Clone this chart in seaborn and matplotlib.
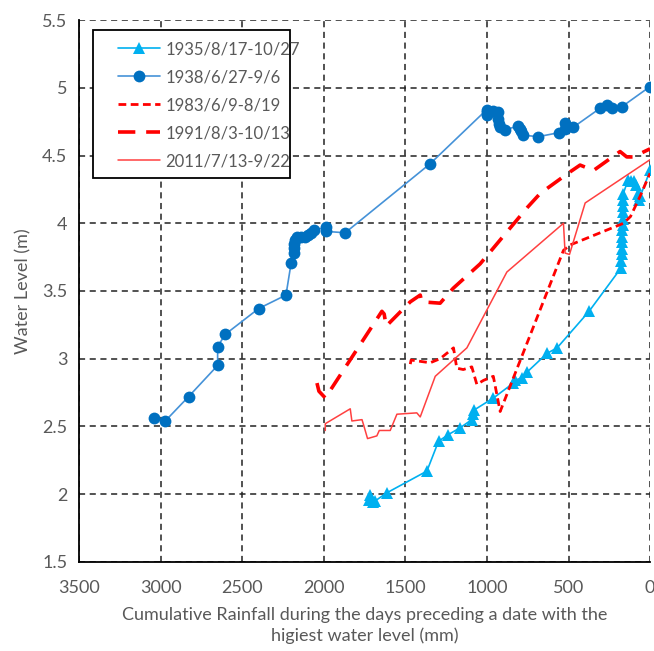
import matplotlib
matplotlib.use("Agg")
import matplotlib.pyplot as plt
from matplotlib.patches import Rectangle
import seaborn as sns

# ---- data ----
labels = ["1935/8/17-10/27", "1938/6/27-9/6", "1983/6/9-8/19", "1991/8/3-10/13", "2011/7/13-9/22"]

x1935 = [1716, 1720, 1700, 1685, 1613, 1368, 1297, 1236, 1164, 1093, 1085, 1080, 960, 838, 827, 786, 755,
         631, 570, 374, 178, 176, 175, 174, 172, 171, 170, 169, 168, 167, 166, 165, 164,
         135, 115, 100, 85, 75, 68, 60, 0]
y1935 = [1.99, 1.96, 1.94, 1.95, 2.01, 2.17, 2.39, 2.44, 2.49, 2.55, 2.59, 2.62, 2.71, 2.82, 2.84, 2.86, 2.90,
         3.04, 3.08, 3.35, 3.67, 3.72, 3.77, 3.81, 3.86, 3.90, 3.95, 3.99, 4.03, 4.08, 4.13, 4.17, 4.22,
         4.32, 4.31, 4.31, 4.28, 4.22, 4.17, 4.20, 4.39]

x1938 = [3043, 2972, 2829, 2651, 2651, 2604, 2400, 2232, 2200, 2181, 2180, 2180, 2178, 2165, 2140, 2114,
         2100, 2080, 2063, 1985, 1985, 1869, 1348, 1001, 1001, 1000, 960, 933, 933, 925, 919, 888,
         807, 800, 790, 776, 684, 556, 521, 521, 470, 306, 265, 235, 174, 0]
y1938 = [2.56, 2.54, 2.72, 2.95, 3.09, 3.18, 3.37, 3.47, 3.71, 3.78, 3.82, 3.85, 3.88, 3.90, 3.90, 3.90,
         3.91, 3.93, 3.95, 3.97, 3.94, 3.93, 4.44, 4.84, 4.80, 4.82, 4.83, 4.82, 4.77, 4.73, 4.71, 4.69,
         4.72, 4.70, 4.68, 4.65, 4.64, 4.67, 4.74, 4.70, 4.71, 4.85, 4.87, 4.85, 4.86, 5.01]

x1983 = [1470, 1465, 1348, 1287, 1205, 1185, 1145, 1093, 1062, 1021, 961, 919, 531, 490, 163, 120, 61, 0]
y1983 = [2.96, 2.99, 2.97, 3.00, 3.08, 2.93, 2.92, 2.94, 2.81, 2.84, 2.87, 2.61, 3.80, 3.84, 4.00, 4.05, 4.20, 4.37]

x1991 = [2042, 2030, 1991, 1644, 1630, 1618, 1470, 1409, 1400, 1287, 1207, 1042, 750, 674, 502, 429, 347,
         184, 143, 104, 0]
y1991 = [2.82, 2.76, 2.71, 3.35, 3.33, 3.24, 3.42, 3.47, 3.42, 3.41, 3.52, 3.70, 4.12, 4.22, 4.37, 4.43, 4.39,
         4.53, 4.49, 4.49, 4.55]

x2011 = [1991, 1991, 1838, 1828, 1766, 1756, 1732, 1675, 1660, 1593, 1552, 1430, 1409, 1317, 1123, 878,
         531, 521, 494, 398, 0]
y2011 = [2.47, 2.52, 2.63, 2.54, 2.55, 2.51, 2.41, 2.43, 2.47, 2.47, 2.59, 2.60, 2.57, 2.87, 3.08, 3.64,
         4.00, 3.78, 3.77, 4.15, 4.47]

x_ticks = [3500, 3000, 2500, 2000, 1500, 1000, 500, 0]
y_ticks = [1.5, 2, 2.5, 3, 3.5, 4, 4.5, 5, 5.5]
y_tick_labels = ["1.5", "2", "2.5", "3", "3.5", "4", "4.5", "5", "5.5"]

sns.set_style("white")
plt.rcParams["font.family"] = ["Lato", "DejaVu Sans"]
grey = "#595959"

fig = plt.figure(figsize=(6.54, 6.51), dpi=100)
ax = fig.add_axes([0.121, 0.137, 0.873, 0.832])

sns.lineplot(x=x1935, y=y1935, sort=False, estimator=None, ax=ax, color="#00B0F0", lw=1.2,
             marker="^", markersize=8.5, markeredgewidth=0, label=labels[0])
sns.lineplot(x=x1938, y=y1938, sort=False, estimator=None, ax=ax, color="#4592D8", lw=1.2,
             marker="o", markersize=8.5, markerfacecolor="#0070C0", markeredgewidth=0, label=labels[1])
sns.lineplot(x=x1983, y=y1983, sort=False, estimator=None, ax=ax, color="#FF0000", lw=2,
             linestyle=(0, (2.8, 1.6)), label=labels[2])
sns.lineplot(x=x1991, y=y1991, sort=False, estimator=None, ax=ax, color="#FF0000", lw=2.6,
             linestyle=(0, (4.8, 3.0)), label=labels[3])
sns.lineplot(x=x2011, y=y2011, sort=False, estimator=None, ax=ax, color="#FF4040", lw=1.1,
             label=labels[4])

ax.set_xlim(3500, 0)
ax.set_ylim(1.5, 5.5)
ax.set_xticks(x_ticks)
ax.set_xticklabels([str(v) for v in x_ticks])
ax.set_yticks(y_ticks)
ax.set_yticklabels(y_tick_labels)

ax.grid(True, color="#222222", linestyle=(0, (4, 3)), linewidth=1.1)
ax.set_axisbelow(True)
for s in ["top", "right"]:
    ax.spines[s].set_visible(False)
for s in ["left", "bottom"]:
    ax.spines[s].set_color("black")
    ax.spines[s].set_linewidth(1.3)
    ax.spines[s].set_zorder(3)

ax.tick_params(axis="both", direction="out", length=5, width=1, color="black",
               labelsize=13, labelcolor=grey)
ax.tick_params(axis="x", pad=8)
ax.set_xlabel("Cumulative Rainfall during the days preceding a date with the\nhigiest water level (mm)",
              fontsize=13, color=grey, labelpad=8, linespacing=1.3)
ax.set_ylabel("Water Level (m)", fontsize=13, color=grey, labelpad=8)

# legend frame (narrower than the text, as in the reference)
ax.add_patch(Rectangle((0.0245, 0.7085), 0.345, 0.273, transform=ax.transAxes,
                       facecolor="white", edgecolor="black", lw=1.3, zorder=4))
leg = ax.legend(loc="upper left", bbox_to_anchor=(0.068, 0.961), fontsize=12, frameon=False,
                handlelength=2.5, labelspacing=0.72, borderpad=0, borderaxespad=0,
                handletextpad=0.35)
leg.set_zorder(5)
for t in leg.get_texts():
    t.set_color(grey)

fig.savefig("out.png", dpi=100)
